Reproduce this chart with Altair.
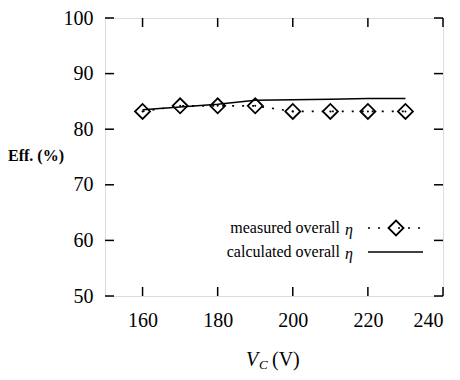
import altair as alt
import pandas as pd

vc = [160, 170, 180, 190, 200, 210, 220, 230]
measured = [83.2, 84.2, 84.2, 84.2, 83.2, 83.2, 83.2, 83.2]
calculated = [83.5, 84.0, 84.5, 85.2, 85.3, 85.4, 85.5, 85.5]
x_ticks = [160, 180, 200, 220, 240]
y_ticks = [50, 60, 70, 80, 90, 100]

W, H = 338, 278
FONT = "Times New Roman, Liberation Serif, Tinos, DejaVu Serif, serif"

df = pd.DataFrame({"vc": vc, "measured": measured, "calculated": calculated})
xt = pd.DataFrame({"t": x_ticks})
yt = pd.DataFrame({"t": y_ticks})

xs = alt.Scale(domain=[150, 240], nice=False, zero=False)
ys = alt.Scale(domain=[50, 100], nice=False, zero=False)

xax = alt.Axis(values=x_ticks, ticks=False, domain=False, grid=False, labelFont=FONT,
               labelFontSize=20, labelColor="black", labelPadding=14, title=None)
yax = alt.Axis(values=y_ticks, ticks=False, domain=False, grid=False, labelFont=FONT,
               labelFontSize=20, labelColor="black", labelPadding=12, title=None)

base = alt.Chart(df)

calc_line = base.mark_line(color="black", strokeWidth=1.5).encode(
    x=alt.X("vc:Q", scale=xs, axis=xax),
    y=alt.Y("calculated:Q", scale=ys, axis=yax),
)
meas_line = base.mark_line(color="black", strokeWidth=1.6, strokeDash=[2, 8]).encode(
    x=alt.X("vc:Q", scale=xs), y=alt.Y("measured:Q", scale=ys)
)
meas_pts = base.mark_point(shape="diamond", size=225, filled=False, color="black",
                           strokeWidth=1.8, opacity=1).encode(
    x=alt.X("vc:Q", scale=xs), y=alt.Y("measured:Q", scale=ys)
)
meas_dots = base.mark_point(shape="circle", size=4, filled=True, color="black", opacity=1).encode(
    x=alt.X("vc:Q", scale=xs), y=alt.Y("measured:Q", scale=ys)
)

tl = 9
bot_ticks = alt.Chart(xt).mark_rule(color="black", strokeWidth=1.5).encode(
    x=alt.X("t:Q", scale=xs), y=alt.value(H), y2=alt.value(H - tl))
top_ticks = alt.Chart(xt).mark_rule(color="black", strokeWidth=1.5).encode(
    x=alt.X("t:Q", scale=xs), y=alt.value(0), y2=alt.value(tl))
left_ticks = alt.Chart(yt).mark_rule(color="black", strokeWidth=1.5).encode(
    y=alt.Y("t:Q", scale=ys), x=alt.value(0), x2=alt.value(tl))
right_ticks = alt.Chart(yt).mark_rule(color="black", strokeWidth=1.5).encode(
    y=alt.Y("t:Q", scale=ys), x=alt.value(W - tl), x2=alt.value(W))

one = pd.DataFrame({"a": [0]})

# legend
leg1 = alt.Chart(one).mark_text(
    font=FONT, fontSize=16, align="right", baseline="middle", color="black").encode(
    x=alt.value(235), y=alt.value(210), text=alt.value("measured overall"))
leg1e = alt.Chart(one).mark_text(
    font=FONT, fontSize=16, fontStyle="italic", align="right", baseline="middle", color="black").encode(
    x=alt.value(248), y=alt.value(212), text=alt.value("η"))
leg2 = alt.Chart(one).mark_text(
    font=FONT, fontSize=16, align="right", baseline="middle", color="black").encode(
    x=alt.value(235), y=alt.value(234), text=alt.value("calculated overall"))
leg2e = alt.Chart(one).mark_text(
    font=FONT, fontSize=16, fontStyle="italic", align="right", baseline="middle", color="black").encode(
    x=alt.value(248), y=alt.value(236), text=alt.value("η"))
leg_dot = alt.Chart(one).mark_rule(
    color="black", strokeWidth=1.6, strokeDash=[2, 8]).encode(
    x=alt.value(263), x2=alt.value(322), y=alt.value(210))
leg_dia = alt.Chart(one).mark_point(
    shape="diamond", size=225, filled=False, color="black", strokeWidth=1.8, opacity=1).encode(
    x=alt.value(291), y=alt.value(210))
leg_solid = alt.Chart(one).mark_rule(
    color="black", strokeWidth=1.5).encode(
    x=alt.value(263), x2=alt.value(318), y=alt.value(234))

# axis titles
ytitle = alt.Chart(one).mark_text(font=FONT, fontSize=16, fontWeight="bold", align="center",
                                  baseline="middle", color="black").encode(
    x=alt.value(-69), y=alt.value(138), text=alt.value("Eff. (%)"))
xt_v = alt.Chart(one).mark_text(font=FONT, fontSize=20, fontStyle="italic", align="left",
                                baseline="alphabetic", color="black").encode(
    x=alt.value(141), y=alt.value(348), text=alt.value("V"))
xt_c = alt.Chart(one).mark_text(font=FONT, fontSize=13, fontStyle="italic", align="left",
                                baseline="alphabetic", color="black").encode(
    x=alt.value(154), y=alt.value(351), text=alt.value("C"))
xt_u = alt.Chart(one).mark_text(font=FONT, fontSize=20, align="left",
                                baseline="alphabetic", color="black").encode(
    x=alt.value(167), y=alt.value(348), text=alt.value("(V)"))

chart = alt.layer(
    calc_line, meas_line, meas_pts, meas_dots,
    bot_ticks, top_ticks, left_ticks, right_ticks,
    leg1, leg1e, leg2, leg2e, leg_dot, leg_dia, leg_solid,
    ytitle, xt_v, xt_c, xt_u,
).properties(
    width=W, height=H,
    autosize=alt.AutoSizeParams(type="none"),
    padding={"left": 97, "top": 10, "right": 9, "bottom": 76},
).configure_view(stroke="black", strokeWidth=1.6).configure(background="white")

chart.save("out.html", embed_options={"renderer": "svg", "actions": False})
